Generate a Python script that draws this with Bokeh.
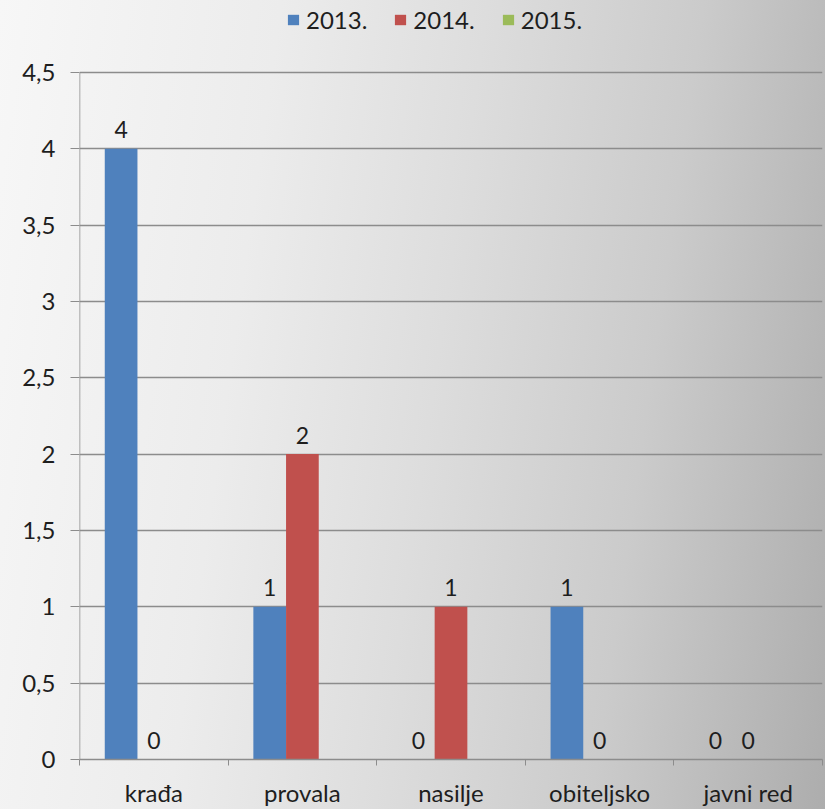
import math
from bokeh.plotting import figure
from bokeh.models import (ColumnDataSource, Range1d, FixedTicker, Legend, LegendItem)
from bokeh.core.properties import value
from bokeh.embed import file_html
from bokeh.resources import INLINE

categories = ["krađa", "provala", "nasilje", "obiteljsko", "javni red"]
series_names = ["2013.", "2014.", "2015."]
y2013 = [4, 1, 0, 1, 0]
y2014 = [0, 2, 1, 0, 0]
y2015 = [math.nan, math.nan, math.nan, math.nan, math.nan]
y_ticks = [0, 0.5, 1, 1.5, 2, 2.5, 3, 3.5, 4, 4.5]
y_tick_labels = ["0", "0,5", "1", "1,5", "2", "2,5", "3", "3,5", "4", "4,5"]

colors = ["#4f81bd", "#c0504d", "#9bbb59"]
offsets = [-0.22, 0.0, 0.22]
bar_w = 0.22
FONT = "Lato"
TXT = "#1e1e1e"
GRID = "#8c8c8c"

W, H = 825, 809
LEFT, RIGHT, BOTTOM = 79, 3, 49
frame_h = H - BOTTOM            # frame spans from the top of the figure to the axis
axis_top_px = 72                # where the value axis ends (4.5)
ymax = y_ticks[-1]
y_end = ymax * frame_h / (frame_h - axis_top_px)

p = figure(width=W, height=H, output_backend="svg", toolbar_location=None,
           x_range=Range1d(0, len(categories)), y_range=Range1d(0, y_end),
           min_border_left=LEFT, min_border_right=RIGHT, min_border_top=0, min_border_bottom=BOTTOM)
p.styles = {"background": "linear-gradient(98deg, #f7f7f7 0%, #ececec 30%, #dddddd 52%, #cbcbcb 75%, #adadad 100%)"}
p.background_fill_color = None
p.border_fill_color = None
p.outline_line_color = None

renderers = []
for vals, col, off in zip([y2013, y2014, y2015], colors, offsets):
    xs = [i + 0.5 + off for i in range(len(categories))]
    src = ColumnDataSource(dict(x=xs, top=vals,
                                lbl=["" if (isinstance(v, float) and math.isnan(v)) else str(v) for v in vals],
                                ty=[0 if (isinstance(v, float) and math.isnan(v)) else v for v in vals]))
    r = p.vbar(x="x", top="top", bottom=0, width=bar_w, source=src, fill_color=col, line_color=None)
    renderers.append(r)
    p.text(x="x", y="ty", text="lbl", source=src, text_align="center", text_baseline="alphabetic",
           y_offset=-19, text_font=value(FONT), text_font_size="23px", text_color=TXT)

# value axis line drawn only up to the last tick
p.segment(x0=[0], y0=[y_ticks[0]], x1=[0], y1=[ymax], line_color=GRID, line_width=1.5)

# axes
xa = p.xaxis[0]
xa.ticker = FixedTicker(ticks=[i + 0.5 for i in range(len(categories))],
                        minor_ticks=list(range(len(categories) + 1)))
xa.major_label_overrides = {i + 0.5: c for i, c in enumerate(categories)}
xa.major_tick_out = 0
xa.major_tick_in = 0
xa.minor_tick_out = 6
xa.minor_tick_in = 0
xa.minor_tick_line_color = GRID
xa.axis_line_color = GRID
xa.axis_line_width = 1.3
xa.major_label_text_font = FONT
xa.major_label_text_font_size = "24px"
xa.major_label_text_color = TXT
xa.major_label_standoff = 12

ya = p.yaxis[0]
ya.ticker = FixedTicker(ticks=y_ticks)
ya.major_label_overrides = {t: l for t, l in zip(y_ticks, y_tick_labels)}
ya.major_tick_out = 9
ya.major_tick_in = 0
ya.minor_tick_out = 0
ya.minor_tick_in = 0
ya.major_tick_line_color = GRID
ya.axis_line_color = None
ya.major_label_text_font = FONT
ya.major_label_text_font_size = "24px"
ya.major_label_text_color = TXT
ya.major_label_standoff = 15

p.xgrid.visible = False
p.ygrid.ticker = FixedTicker(ticks=y_ticks)
p.ygrid.grid_line_color = GRID
p.ygrid.grid_line_width = 1.3

legend = Legend(items=[LegendItem(label=n, renderers=[r]) for n, r in zip(series_names, renderers)],
                orientation="horizontal", location=(207, frame_h - 35),
                glyph_width=14, glyph_height=13, label_standoff=6, spacing=26,
                padding=0, margin=0,
                label_text_font=FONT, label_text_font_size="24px", label_text_color=TXT,
                background_fill_alpha=0, border_line_color=None)
p.add_layout(legend, "center")

open("out.html", "w").write(file_html(p, INLINE))
